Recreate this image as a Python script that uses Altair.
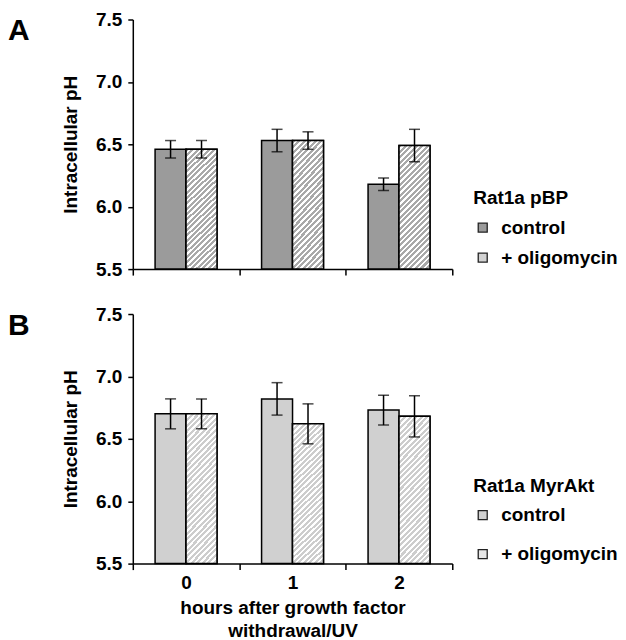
import altair as alt
import pandas as pd

hours = ["0", "1", "2"]
treatments = ["control", "+ oligomycin"]

a_control = [6.46, 6.53, 6.18]
a_control_err = [0.07, 0.09, 0.05]
a_oligo = [6.46, 6.53, 6.49]
a_oligo_err = [0.07, 0.07, 0.13]

b_control = [6.70, 6.82, 6.73]
b_control_err = [0.12, 0.13, 0.12]
b_oligo = [6.70, 6.62, 6.68]
b_oligo_err = [0.12, 0.16, 0.165]

y_ticks = [5.5, 6.0, 6.5, 7.0, 7.5]
FONT = "Liberation Sans"
W, H = 320, 250


def frame(ctrl, ctrl_err, olig, olig_err):
    rows = []
    for i, h in enumerate(hours):
        rows.append({"hour": h, "treat": treatments[0], "ph": ctrl[i],
                     "lo": ctrl[i] - ctrl_err[i], "hi": ctrl[i] + ctrl_err[i]})
        rows.append({"hour": h, "treat": treatments[1], "ph": olig[i],
                     "lo": olig[i] - olig_err[i], "hi": olig[i] + olig_err[i]})
    return pd.DataFrame(rows)


def hatch(gray, n, x2, y2, frac=0.55):
    stops = []
    for i in range(n):
        a = round(i / n, 5)
        b = round((i + frac) / n, 5)
        c = round((i + 1) / n, 5)
        stops += [
            alt.GradientStop(offset=a, color=gray),
            alt.GradientStop(offset=b, color=gray),
            alt.GradientStop(offset=b, color="white"),
            alt.GradientStop(offset=c, color="white"),
        ]
    return alt.LinearGradient(gradient="linear", stops=stops, x1=0, y1=0, x2=x2, y2=y2)


def panel(df, letter, ctrl_color, legend_olig_color, hatch_fill, legend_title,
          legend_y, row_pad, bottom):
    x_axis = alt.Axis(
        tickBand="extent", tickSize=6, tickWidth=1.5, tickColor="black",
        domainColor="black", domainWidth=1.5, grid=False,
        labels=bottom, labelAngle=0, labelFontSize=19, labelFont=FONT,
        labelFontWeight="bold", labelColor="black", labelPadding=4,
        title=["hours after growth factor", "withdrawal/UV"] if bottom else None,
        titleFontSize=19, titleFont=FONT, titleFontWeight="bold",
        titleColor="black", titlePadding=6, titleLineHeight=23,
    )
    x = alt.X("hour:N", sort=hours,
              scale=alt.Scale(domain=hours, paddingInner=0, paddingOuter=0),
              axis=x_axis)
    xo = alt.XOffset("treat:N", sort=treatments,
                     scale=alt.Scale(domain=treatments, paddingInner=0, paddingOuter=0.72))
    y = alt.Y("ph:Q", scale=alt.Scale(domain=[5.5, 7.5], zero=False, nice=False),
              axis=alt.Axis(values=y_ticks, format=".1f", grid=False,
                            tickSize=5, tickWidth=1.5, tickColor="black",
                            domainColor="black", domainWidth=1.5,
                            labelFontSize=19, labelFont=FONT, labelFontWeight="bold",
                            labelColor="black", labelPadding=6,
                            title="Intracellular pH", titleFontSize=19,
                            titleFont=FONT, titleFontWeight="bold",
                            titleColor="black", titlePadding=15))
    base = alt.Chart(df)
    bars = base.mark_bar(stroke="black", strokeWidth=1.5).encode(
        x=x, xOffset=xo, y=y, y2=alt.Y2(datum=5.5),
        color=alt.Color("treat:N", sort=treatments,
                        scale=alt.Scale(domain=treatments,
                                        range=[ctrl_color, legend_olig_color]),
                        legend=alt.Legend(
                            orient="none", legendX=341, legendY=legend_y, padding=0,
                            title=legend_title, titleFontSize=19, titleFont=FONT,
                            titleFontWeight="bold", titleColor="black",
                            titlePadding=10, labelFontSize=19, labelFont=FONT,
                            labelFontWeight="bold", labelColor="black",
                            labelOffset=9, rowPadding=row_pad,
                            symbolType="square", symbolSize=81,
                            symbolStrokeColor="#222", symbolStrokeWidth=1.3)),
    )
    hatched = base.transform_filter(alt.datum.treat == treatments[1]).mark_bar(
        stroke="black", strokeWidth=1.5, fill=hatch_fill).encode(
        x=x, xOffset=xo, y=y, y2=alt.Y2(datum=5.5))
    rules = base.mark_rule(color="black", strokeWidth=1.5).encode(
        x=x, xOffset=xo, y="lo:Q", y2="hi:Q")
    cap_hi = base.mark_tick(color="black", thickness=1.5, size=11).encode(
        x=x, xOffset=xo, y="hi:Q")
    cap_lo = base.mark_tick(color="black", thickness=1.5, size=11).encode(
        x=x, xOffset=xo, y="lo:Q")
    label = alt.Chart(pd.DataFrame({"t": [letter]})).mark_text(
        align="left", baseline="alphabetic", fontSize=30, font=FONT,
        fontWeight="bold", color="black").encode(
        text="t:N", x=alt.value(-125), y=alt.value(21))
    return alt.layer(bars, hatched, rules, cap_hi, cap_lo, label).properties(
        width=W, height=H, view=alt.ViewBackground(strokeOpacity=0, strokeWidth=0))


df_a = frame(a_control, a_control_err, a_oligo, a_oligo_err)
df_b = frame(b_control, b_control_err, b_oligo, b_oligo_err)

top = panel(df_a, "A", "#9b9b9b", "#d2d2d2", hatch("#a9a9a9", 28, 0.294, 1.176),
            "Rat1a pBP", 170, 10, False)
bottom = panel(df_b, "B", "#d0d0d0", "#e6e6e6", hatch("#cdcdcd", 32, 0.248, 1.161),
               "Rat1a MyrAkt", 163, 19, True)

chart = alt.vconcat(top, bottom, spacing=26).resolve_scale(
    color="independent").properties(
    padding={"left": 0, "top": 2, "right": 0, "bottom": 0}
).configure_view(stroke="transparent", strokeWidth=0).configure(font=FONT)

chart.save("out.html", embed_options={"renderer": "svg", "actions": False})
